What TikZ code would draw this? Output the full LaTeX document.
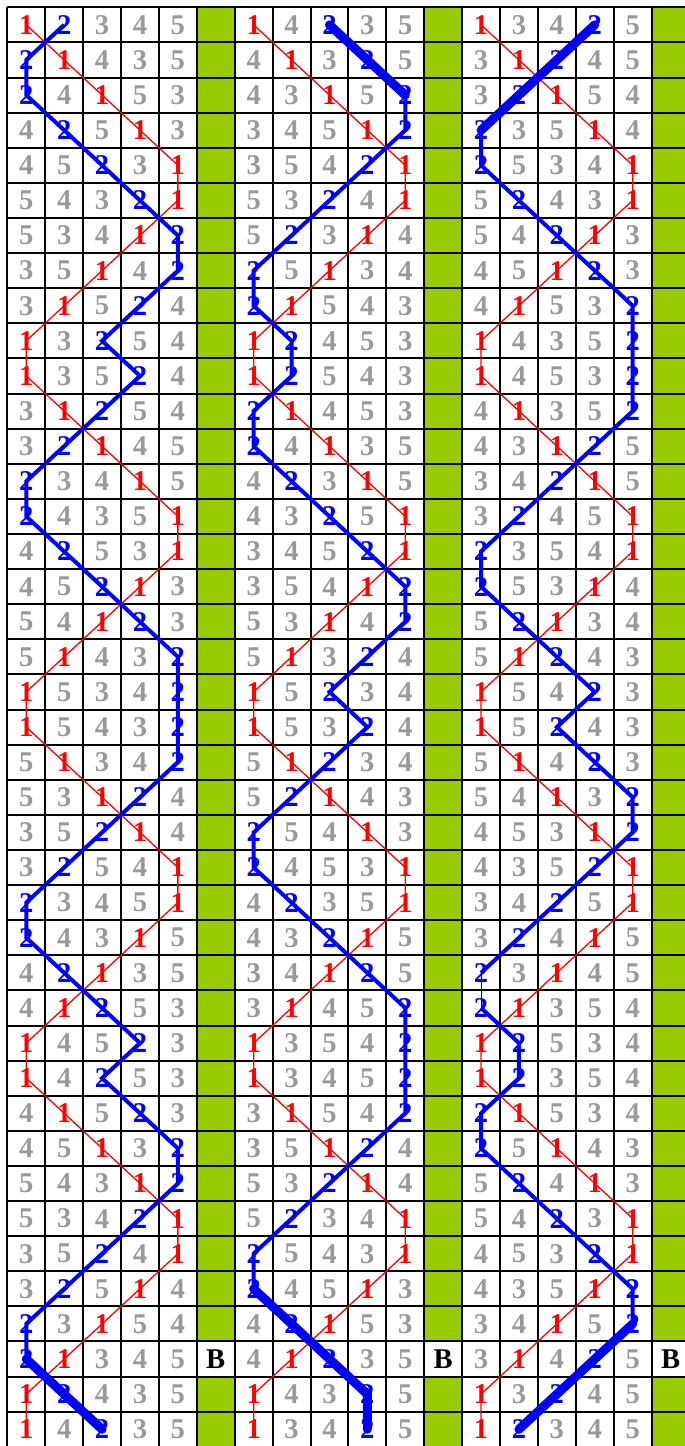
\documentclass[tikz,border=0pt]{standalone}
\usepackage{fontspec}
\setmainfont{Liberation Serif}
\definecolor{trebred}{RGB}{255, 0, 0}
\definecolor{twoblue}{RGB}{0, 0, 255}
\definecolor{restgrey}{RGB}{153, 153, 153}
\definecolor{bargreen}{RGB}{153, 204, 0}
\newcommand*{\cw}{37.9}
\newcommand*{\rh}{35.11}

% rows of the three leads
\newcommand*{\leadA}{12345, 21435, 24153, 42513, 45231, 54321, 53412, 35142, 31524, 13254,
  13524, 31254, 32145, 23415, 24351, 42531, 45213, 54123, 51432, 15342,
  15432, 51342, 53124, 35214, 32541, 23451, 24315, 42135, 41253, 14523,
  14253, 41523, 45132, 54312, 53421, 35241, 32514, 23154, 21345, 12435, 14235}
\newcommand*{\leadB}{14235, 41325, 43152, 34512, 35421, 53241, 52314, 25134, 21543, 12453,
  12543, 21453, 24135, 42315, 43251, 34521, 35412, 53142, 51324, 15234,
  15324, 51234, 52143, 25413, 24531, 42351, 43215, 34125, 31452, 13542,
  13452, 31542, 35124, 53214, 52341, 25431, 24513, 42153, 41235, 14325, 13425}
\newcommand*{\leadC}{13425, 31245, 32154, 23514, 25341, 52431, 54213, 45123, 41532, 14352,
  14532, 41352, 43125, 34215, 32451, 23541, 25314, 52134, 51243, 15423,
  15243, 51423, 54132, 45312, 43521, 34251, 32415, 23145, 21354, 12534,
  12354, 21534, 25143, 52413, 54231, 45321, 43512, 34152, 31425, 13245, 12345}

\newcommand*{\putrow}[5]{%
  \foreach \bellno [count=\pos] in {#1,#2,#3,#4,#5} {
    \ifnum\bellno=1 \def\numcol{trebred}\else\ifnum\bellno=2 \def\numcol{twoblue}\else\def\numcol{restgrey}\fi\fi
    \node (L\ld-\rw-\bellno) at ({7.3 + (6*(\ld-1) + \pos - 0.5)*\cw}, {7.3 + (\rw + 0.5)*\rh}) [bellnum, text=\numcol] {\bellno};
  }%
}
\newcommand*{\putlead}[2]{%
  \def\ld{#1}%
  \foreach \row [count=\rw from 0] in #2 {\expandafter\putrow\row}%
}

\begin{document}
\begin{tikzpicture}[
   x=0.5pt, y=-0.5pt,
   bellnum/.style={inner sep=0, font=\fontsize{14.3}{14.3}\selectfont\bfseries},
   callnum/.style={inner sep=0, font=\fontsize{14.3}{14.3}\selectfont\bfseries, text=black},
   gridline/.style={draw=black, line width=1pt},
   trebpath/.style={draw=trebred, line width=0.65pt},
   twopath/.style={draw=twoblue, line width=2pt},
   workpath/.style={draw=twoblue, line width=4.5pt, line cap=round},
   gappath/.style={draw=black, line width=0.5pt}
  ]

  \useasboundingbox (0, 0) rectangle (685, 1446);

  % call columns
  \foreach \ld in {1, 2, 3} {
    \fill[bargreen] ({7.3 + (6*\ld - 1)*\cw}, 7.3) rectangle ({7.3 + 6*\ld*\cw}, {7.3 + 41*\rh});
    \fill[white] ({7.3 + (6*\ld - 1)*\cw}, {7.3 + 38*\rh}) rectangle ({7.3 + 6*\ld*\cw}, {7.3 + 39*\rh});
    \node (B\ld) at ({7.3 + (6*\ld - 0.5)*\cw}, {7.3 + 38.5*\rh}) [callnum] {B};
  }

  % grid
  \foreach \k in {0, ..., 41} {
    \draw[gridline] (7.3, {7.3 + \k*\rh}) -- ({7.3 + 18*\cw}, {7.3 + \k*\rh});
  }
  \foreach \k in {0, ..., 18} {
    \draw[gridline] ({7.3 + \k*\cw}, 7.3) -- ({7.3 + \k*\cw}, {7.3 + 41*\rh});
  }

  % the rows
  \putlead{1}{\leadA}
  \putlead{2}{\leadB}
  \putlead{3}{\leadC}

  % treble
  \foreach \ld in {1, 2, 3} {
    \draw[trebpath] (L\ld-0-1.center) \foreach \rw in {1, ..., 40} { -- (L\ld-\rw-1.center) };
  }

  % the 2
  \draw[twopath] (L1-0-2.center) \foreach \rw in {1, ..., 40} { -- (L1-\rw-2.center) };
  \draw[twopath] (L2-0-2.center) \foreach \rw in {1, ..., 40} { -- (L2-\rw-2.center) };
  \draw[twopath] (L3-0-2.center) \foreach \rw in {1, ..., 27} { -- (L3-\rw-2.center) };
  \draw[twopath] (L3-28-2.center) \foreach \rw in {29, ..., 40} { -- (L3-\rw-2.center) };
  \draw[gappath] (L3-27-2.center) -- (L3-28-2.center);

  % heavy work
  \draw[workpath] (L1-38-2.center) -- (L1-39-2.center) -- (L1-40-2.center);
  \draw[workpath] (L2-0-2.center) -- (L2-1-2.center) -- (L2-2-2.center);
  \draw[workpath] (L2-36-2.center) \foreach \rw in {37, ..., 40} { -- (L2-\rw-2.center) };
  \draw[workpath] (L3-0-2.center) \foreach \rw in {1, 2, 3} { -- (L3-\rw-2.center) };
  \draw[workpath] (L3-37-2.center) \foreach \rw in {38, 39, 40} { -- (L3-\rw-2.center) };

\end{tikzpicture}
\end{document}
